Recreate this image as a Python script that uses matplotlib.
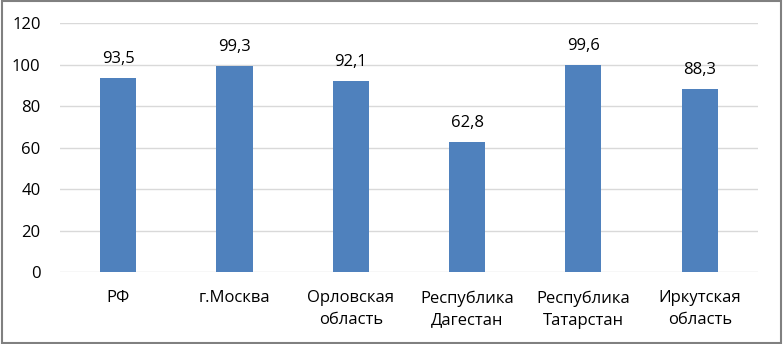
import matplotlib.pyplot as plt
from matplotlib.patches import Rectangle

regions = ['РФ', 'г.Москва', 'Орловская\nобласть', 'Республика\nДагестан',
           'Республика\nТатарстан', 'Иркутская\nобласть']
values = [93.5, 99.3, 92.1, 62.8, 99.6, 88.3]
labels = ['93,5', '99,3', '92,1', '62,8', '99,6', '88,3']

plt.rcParams['font.family'] = ['Open Sans', 'DejaVu Sans']

fig = plt.figure(figsize=(7.83, 3.44), dpi=100)
ax = fig.add_axes([0.0766, 0.209, 0.8914, 0.724])

x = range(len(regions))
bars = ax.bar(x, values, width=0.31, color='#4F81BD', zorder=3)
for b, lab in zip(bars, labels):
    ax.text(b.get_x() + b.get_width() / 2, b.get_height() + 5.3, lab,
            ha='center', va='bottom', fontsize=12, color='#000000')

ax.set_xlim(-0.5, len(regions) - 0.5)
ax.set_ylim(0, 120)
ax.set_yticks(range(0, 121, 20))
ax.set_xticks(list(x))
ax.set_xticklabels(regions, fontsize=12, linespacing=1.5)
ax.tick_params(axis='y', labelsize=12, length=0, pad=14)
ax.tick_params(axis='x', length=0, pad=13)
ax.grid(axis='y', color='#D9D9D9', linewidth=1, zorder=0)
for s in ax.spines.values():
    s.set_visible(False)

# frame around the whole chart
fig.patches.append(Rectangle((0.002, 0.003), 0.996, 0.994, transform=fig.transFigure,
                             fill=False, edgecolor='#808080', linewidth=1.5))

fig.savefig('out.png', dpi=100)
